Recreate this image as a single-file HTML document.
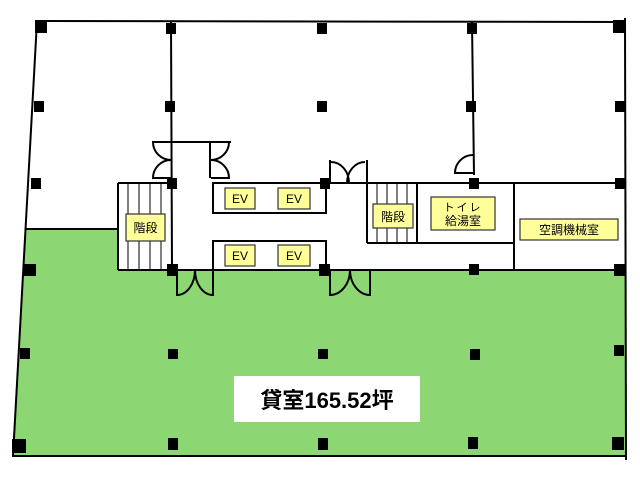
<!DOCTYPE html>
<html><head><meta charset="utf-8"><style>
html,body{margin:0;padding:0;background:#fff;width:640px;height:480px;overflow:hidden}
svg{display:block}
text{font-family:"Liberation Sans","Noto Sans CJK JP",sans-serif}
</style></head><body>
<svg width="640" height="480" viewBox="0 0 640 480" xmlns="http://www.w3.org/2000/svg">
<polygon points="25,229 118,229 118,270 625,270 625,457 12,457" fill="#8cd674"/>
<g stroke="#000" stroke-width="2" fill="none">
<line x1="37" y1="21" x2="625" y2="22"/>
<line x1="37" y1="21" x2="13" y2="456"/>
<line x1="625" y1="18" x2="626" y2="460"/>
<line x1="12" y1="456" x2="626" y2="456"/>
<line x1="171" y1="22" x2="172" y2="270"/>
<line x1="472" y1="22" x2="474" y2="175"/>
<line x1="25" y1="229" x2="118" y2="229"/>
<line x1="118" y1="270" x2="625" y2="270"/>
<line x1="118" y1="183" x2="172" y2="183"/>
<line x1="118" y1="183" x2="118" y2="270"/>
<line x1="213" y1="183" x2="625" y2="183"/>
<rect x="213" y="183" width="113" height="30"/>
<rect x="213" y="241" width="113" height="29"/>
<line x1="514" y1="183" x2="514" y2="270"/>
<line x1="367" y1="243" x2="514" y2="243"/>
<line x1="367" y1="183" x2="367" y2="243"/>
<line x1="417" y1="183" x2="417" y2="243"/>
<line x1="152" y1="142" x2="231" y2="142"/>
<line x1="210" y1="142" x2="210" y2="178"/>
<path d="M153,142 A18,18 0 0 0 171,160 A18,18 0 0 0 153,178 L171,178"/>
<path d="M229,142 A18,18 0 0 1 211,160 A18,18 0 0 1 229,178 L211,178"/>
<line x1="177" y1="270" x2="177" y2="296"/><line x1="213" y1="270" x2="213" y2="296"/>
<path d="M177,295 A18,25 0 0 0 195,270 A18,25 0 0 0 213,295"/>
<line x1="330" y1="270" x2="330" y2="296"/><line x1="370" y1="270" x2="370" y2="296"/>
<path d="M330,295 A20,25 0 0 0 350,270 A20,25 0 0 0 370,295"/>
<line x1="330" y1="160" x2="330" y2="183"/><line x1="367" y1="160" x2="367" y2="183"/>
<path d="M331,162 A18,21 0 0 1 349,183 M365,162 A18,21 0 0 0 347,183"/>
<path d="M473,155 A18,18 0 0 0 455,173 L473,173"/>
</g>
<g stroke="#000" stroke-width="1">
<line x1="128" y1="183" x2="128" y2="270"/><line x1="139" y1="183" x2="139" y2="270"/><line x1="150" y1="183" x2="150" y2="270"/><line x1="161" y1="183" x2="161" y2="270"/>
<line x1="377" y1="183" x2="377" y2="243"/><line x1="387" y1="183" x2="387" y2="243"/><line x1="397" y1="183" x2="397" y2="243"/><line x1="407" y1="183" x2="407" y2="243"/>
</g>
<g fill="#000">
<rect x="35" y="20" width="12" height="13"/><rect x="166" y="23" width="10" height="11"/><rect x="317" y="23" width="10" height="11"/><rect x="467" y="23" width="10" height="11"/><rect x="613" y="20" width="12" height="13"/>
<rect x="34" y="101" width="10" height="11"/><rect x="165" y="101" width="10" height="11"/><rect x="317" y="101" width="10" height="11"/><rect x="466" y="101" width="10" height="11"/><rect x="615" y="101" width="10" height="11"/>
<rect x="31" y="178" width="10" height="11"/><rect x="167" y="178" width="10" height="11"/><rect x="320" y="178" width="10" height="11"/><rect x="469" y="178" width="10" height="11"/><rect x="615" y="178" width="10" height="11"/>
<rect x="24" y="264" width="12" height="12"/><rect x="167" y="264" width="11" height="12"/><rect x="319" y="264" width="11" height="12"/><rect x="469" y="264" width="10" height="11"/><rect x="614" y="264" width="11" height="12"/>
<rect x="20" y="348" width="10" height="11"/><rect x="168" y="349" width="10" height="10"/><rect x="318" y="349" width="10" height="10"/><rect x="470" y="349" width="10" height="11"/><rect x="614" y="345" width="10" height="11"/>
<rect x="12" y="439" width="14" height="14"/><rect x="168" y="438" width="10" height="12"/><rect x="318" y="438" width="10" height="12"/><rect x="468" y="437" width="10" height="12"/><rect x="612" y="437" width="12" height="13"/>
</g>
<g fill="#ffff99" stroke="#333" stroke-width="1.2">
<rect x="126" y="214" width="39" height="27"/>
<rect x="225" y="188" width="30" height="21"/><rect x="278" y="188" width="32" height="21"/>
<rect x="225" y="245" width="30" height="21"/><rect x="278" y="245" width="32" height="21"/>
<rect x="373" y="204" width="40" height="24"/>
<rect x="431" y="197" width="64" height="33"/>
<rect x="520" y="219" width="98" height="21"/>
</g>
<g font-size="12" fill="#000" text-anchor="middle">
<text x="145.5" y="232">階段</text>
<text x="240" y="203">EV</text><text x="294" y="203">EV</text>
<text x="240" y="260">EV</text><text x="294" y="260">EV</text>
<text x="393" y="221">階段</text>
<text x="463" y="211" font-size="11" letter-spacing="2">トイレ</text>
<text x="463" y="225">給湯室</text>
<text x="569" y="234">空調機械室</text>
</g>
<rect x="234" y="376" width="186" height="46" fill="#fff"/>
<text x="327" y="408" font-size="22" font-weight="bold" text-anchor="middle" font-family="Liberation Sans,Noto Sans CJK JP,sans-serif">貸室165.52坪</text>
</svg>
</body></html>
